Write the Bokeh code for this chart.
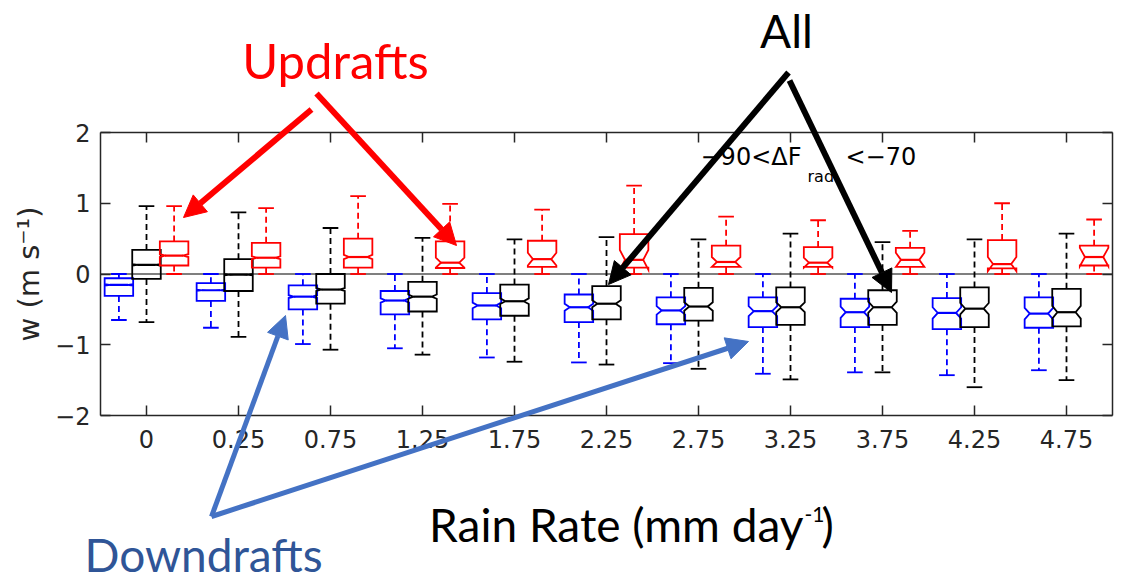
from bokeh.plotting import figure
from bokeh.models import FixedTicker, LinearAxis, Label, Arrow, NormalHead, Range1d
from bokeh.embed import file_html
from bokeh.resources import INLINE

# ---------------- data ----------------
categories = ["0", "0.25", "0.75", "1.25", "1.75", "2.25", "2.75", "3.25", "3.75", "4.25", "4.75"]

# Downdrafts (blue)
dn_lo = [-0.65, -0.76, -0.99, -1.05, -1.18, -1.25, -1.26, -1.41, -1.39, -1.43, -1.36]
dn_q1 = [-0.31, -0.38, -0.50, -0.57, -0.64, -0.68, -0.71, -0.75, -0.75, -0.78, -0.76]
dn_med = [-0.155, -0.23, -0.32, -0.375, -0.445, -0.47, -0.515, -0.525, -0.54, -0.55, -0.56]
dn_q3 = [-0.06, -0.13, -0.16, -0.24, -0.27, -0.29, -0.33, -0.33, -0.35, -0.34, -0.33]
dn_hi = [0.0, 0.0, 0.0, 0.0, 0.0, 0.0, 0.0, 0.0, 0.0, 0.0, 0.0]
dn_notch = [0.01, 0.01, 0.02, 0.03, 0.04, 0.05, 0.06, 0.07, 0.08, 0.08, 0.08]

# All (black)
all_lo = [-0.68, -0.89, -1.07, -1.14, -1.24, -1.28, -1.34, -1.49, -1.39, -1.60, -1.50]
all_q1 = [-0.07, -0.24, -0.42, -0.53, -0.59, -0.64, -0.66, -0.72, -0.72, -0.75, -0.74]
all_med = [0.13, -0.01, -0.22, -0.32, -0.385, -0.42, -0.46, -0.47, -0.47, -0.49, -0.54]
all_q3 = [0.34, 0.21, 0.0, -0.11, -0.15, -0.17, -0.195, -0.19, -0.23, -0.19, -0.21]
all_hi = [0.96, 0.87, 0.65, 0.51, 0.49, 0.52, 0.49, 0.57, 0.45, 0.49, 0.57]
all_notch = [0.01, 0.01, 0.02, 0.03, 0.04, 0.05, 0.06, 0.07, 0.08, 0.08, 0.09]

# Updrafts (red)
up_lo = [0.0, 0.0, 0.0, 0.0, 0.0, 0.0, 0.0, 0.0, 0.0, 0.0, 0.0]
up_q1 = [0.12, 0.09, 0.09, 0.085, 0.10, 0.09, 0.10, 0.10, 0.10, 0.08, 0.12]
up_med = [0.26, 0.23, 0.24, 0.16, 0.21, 0.20, 0.17, 0.16, 0.20, 0.14, 0.24]
up_q3 = [0.46, 0.44, 0.50, 0.46, 0.47, 0.565, 0.40, 0.38, 0.37, 0.48, 0.40]
up_hi = [0.96, 0.93, 1.10, 0.99, 0.91, 1.25, 0.81, 0.76, 0.61, 1.00, 0.77]
up_notch = [0.02, 0.02, 0.03, 0.07, 0.09, 0.14, 0.07, 0.07, 0.10, 0.10, 0.13]

y_ticks = [-2, -1, 0, 1, 2]
y_tick_labels = ["\u22122", "\u22121", "0", "1", "2"]

# ---------------- layout geometry (canvas pixels) ----------------
W, H = 1124, 584
BOX_L, BOX_R, BOX_T, BOX_B = 100, 1112, 132, 415   # the axes box on the canvas
X0, X1, Y0, Y1 = 0.5, 11.5, -2.0, 2.0              # axes limits
PXU = (BOX_R - BOX_L) / (X1 - X0)
PYU = (BOX_B - BOX_T) / (Y1 - Y0)

p = figure(width=W, height=H,
           x_range=Range1d(X0 - BOX_L / PXU, X1 + (W - BOX_R) / PXU),
           y_range=Range1d(Y0 - (H - BOX_B) / PYU, Y1 + BOX_T / PYU),
           output_backend="svg", toolbar_location=None,
           min_border=0, min_border_left=0, min_border_right=0,
           min_border_top=0, min_border_bottom=0)
p.title.visible = False
p.background_fill_color = "white"
p.border_fill_color = "white"
p.grid.visible = False
p.outline_line_color = None

pos = list(range(1, len(categories) + 1))
AX = "#262626"

def style_axis(ax, show_labels):
    ax.major_tick_in = 10
    ax.major_tick_out = 0
    ax.minor_tick_in = 0
    ax.minor_tick_out = 0
    ax.axis_line_color = AX
    ax.axis_line_width = 1.5
    ax.major_tick_line_color = AX
    ax.major_tick_line_width = 1.5
    if show_labels:
        ax.major_label_text_font = "DejaVu Sans"
        ax.major_label_text_font_size = "24px"
        ax.major_label_text_color = AX
    else:
        ax.major_label_text_alpha = 0
        ax.major_label_text_font_size = "1px"
        ax.major_label_standoff = 0

xlabels = {k: v for k, v in zip(pos, categories)}
ylabels = {k: v for k, v in zip(y_ticks, y_tick_labels)}

xa = p.xaxis[0]
xa.ticker = FixedTicker(ticks=pos)
xa.major_label_overrides = xlabels
xa.fixed_location = Y0
xa.bounds = (X0, X1)
style_axis(xa, True)
xa.major_label_standoff = 14

ya = p.yaxis[0]
ya.ticker = FixedTicker(ticks=y_ticks)
ya.major_label_overrides = ylabels
ya.fixed_location = X0
ya.bounds = (Y0, Y1)
style_axis(ya, True)
ya.major_label_standoff = 10
ya.axis_label = "w (m s\u207b\u00b9)"
ya.axis_label_text_font = "DejaVu Sans"
ya.axis_label_text_font_size = "29px"
ya.axis_label_text_font_style = "normal"
ya.axis_label_text_color = AX
ya.axis_label_standoff = 6

top = LinearAxis(ticker=FixedTicker(ticks=pos), fixed_location=Y1, bounds=(X0, X1))
style_axis(top, False)
p.add_layout(top, "above")
right = LinearAxis(ticker=FixedTicker(ticks=y_ticks), fixed_location=X1, bounds=(Y0, Y1))
style_axis(right, False)
p.add_layout(right, "right")

# zero reference line across the axes box
p.segment(x0=[X0], y0=[0], x1=[X1], y1=[0], line_color="black", line_width=1.2)

BOXW = 0.31
OFF = 0.30
CAPW = 0.17
IND = 0.18

def draw_series(offset, color, lo, q1, med, q3, hi, notch):
    xs, ys = [], []
    mx0, mx1, my = [], [], []
    wx, wy0, wy1 = [], [], []
    cx0, cx1, cy = [], [], []
    for i, c0 in enumerate(pos):
        c = c0 + offset
        L, R = c - BOXW / 2, c + BOXW / 2
        d = IND * BOXW
        nlo, nhi = med[i] - notch[i], med[i] + notch[i]
        xs.append([L, L, L + d, L, L, R, R, R - d, R, R])
        ys.append([q1[i], nlo, med[i], nhi, q3[i], q3[i], nhi, med[i], nlo, q1[i]])
        mx0.append(L + d); mx1.append(R - d); my.append(med[i])
        wx += [c, c]; wy0 += [q3[i], q1[i]]; wy1 += [hi[i], lo[i]]
        cx0 += [c - CAPW / 2, c - CAPW / 2]; cx1 += [c + CAPW / 2, c + CAPW / 2]
        cy += [hi[i], lo[i]]
    p.segment(x0=wx, y0=wy0, x1=wx, y1=wy1, line_color=color, line_width=1.8, line_dash="6 4")
    p.segment(x0=cx0, y0=cy, x1=cx1, y1=cy, line_color=color, line_width=1.8)
    p.patches(xs=xs, ys=ys, fill_alpha=0, line_color=color, line_width=1.8, line_join="miter")
    p.segment(x0=mx0, y0=my, x1=mx1, y1=my, line_color=color, line_width=2.2)

draw_series(-OFF, "#0000FF", dn_lo, dn_q1, dn_med, dn_q3, dn_hi, dn_notch)
draw_series(0.0, "#000000", all_lo, all_q1, all_med, all_q3, all_hi, all_notch)
draw_series(OFF, "#FF0000", up_lo, up_q1, up_med, up_q3, up_hi, up_notch)

# ---------------- annotations (placed in canvas pixels) ----------------
def dx(px):
    return X0 + (px - BOX_L) / PXU

def dy(py):
    return Y1 - (py - BOX_T) / PYU

def label(px, py, text, font, size, color, align="left"):
    # py is the wanted baseline; compensate the renderer's baseline shift
    k = 0.42 if font == "Lato" else 0.37
    p.add_layout(Label(x=dx(px), y=dy(py - k * size), text=text, text_font=font,
                       text_font_size=f"{size}px", text_color=color,
                       text_align=align, text_baseline="alphabetic"))

# inside text
label(700, 165, "\u221290<\u0394F", "DejaVu Sans", 24, "black")
label(807, 182, "rad", "DejaVu Sans", 16, "black")
label(845, 165, "<\u221270", "DejaVu Sans", 24, "black")

# x axis title
label(803, 543, "Rain Rate (mm day", "Lato", 46, "black", "right")
label(804, 523, "-1", "Lato", 21, "black")
label(821, 543, ")", "Lato", 46, "black")

label(335, 80, "Updrafts", "Lato", 49, "#FF0000", "center")
label(786, 49, "All", "Lato", 46, "black", "center")
label(84, 573, "Downdrafts", "Lato", 46, "#2F5597")

def arrow(x0, y0, x1, y1, color, lw):
    p.add_layout(Arrow(x_start=dx(x0), y_start=dy(y0), x_end=dx(x1), y_end=dy(y1),
                       line_color=color, line_width=lw,
                       end=NormalHead(size=22, fill_color=color, line_color=color, line_width=1)))

arrow(311, 109, 183, 217, "#FF0000", 6)
arrow(316, 93, 456, 245, "#FF0000", 6)
arrow(788, 72, 608, 284, "black", 6)
arrow(789, 80, 891, 292, "black", 6)
arrow(211, 516, 285, 315, "#4472C4", 5)
arrow(211, 516, 748, 341, "#4472C4", 5)

open("out.html", "w").write(file_html(p, INLINE))
